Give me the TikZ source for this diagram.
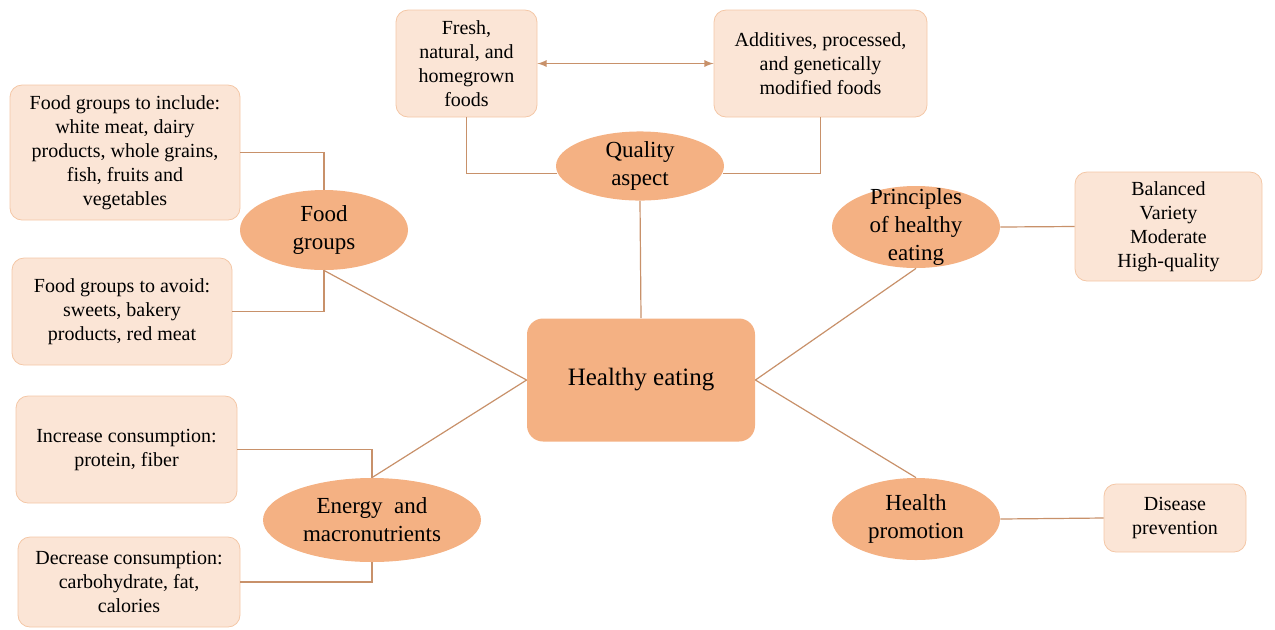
\documentclass[tikz,border=0pt]{standalone}
\usepackage{fontspec}
\setmainfont{Liberation Serif}
\usetikzlibrary{shapes.geometric}
\definecolor{boxfill}{HTML}{FBE5D6}
\definecolor{boxline}{HTML}{F4C7A6}
\definecolor{topicfill}{HTML}{F4B183}
\definecolor{linkcol}{HTML}{C8916A}

\begin{document}
\begin{tikzpicture}[x=0.5pt,y=-0.5pt,
    infobox/.style={draw=boxline,fill=boxfill,rounded corners=6pt,align=center,
      inner sep=2pt,font=\fontsize{10}{12}\selectfont},
    topic/.style={ellipse,fill=topicfill,inner sep=0pt,align=center,
      font=\fontsize{11.5}{14}\selectfont},
    link/.style={draw=linkcol,line width=0.6pt}]
      \useasboundingbox (0,0) rectangle (1275,629) ;
      % centre
      \node[fill=topicfill,rounded corners=8pt,minimum width=114pt,minimum height=61.5pt,
        font=\fontsize{12.5}{15}\selectfont] (healthy) at (641,380) {Healthy eating} ;
      % topics
      \node[topic,minimum width=84pt,minimum height=34pt] (quality) at (640,166) {Quality\\aspect} ;
      \node[topic,minimum width=84pt,minimum height=40pt] (food) at (324,230) {Food\\groups} ;
      \node[topic,minimum width=109pt,minimum height=42pt] (energy) at (372,520) {Energy~ and\\macronutrients} ;
      \node[topic,inner ysep=-5pt,minimum width=84pt,minimum height=41pt] (principles) at (916,227) {Principles\\of healthy\\eating} ;
      \node[topic,minimum width=84pt,minimum height=41pt] (promotion) at (916,519) {Health\\promotion} ;
      % boxes
      \node[infobox,minimum width=70.5pt,minimum height=53.5pt] (fresh) at (466.5,63.5) {Fresh,\\natural, and\\homegrown\\foods} ;
      \node[infobox,minimum width=106.5pt,minimum height=53.5pt] (additives) at (820.5,63.5) {Additives, processed,\\and genetically\\modified foods} ;
      \node[infobox,minimum width=115pt,minimum height=67.5pt] (include) at (125,152.5) {Food groups to include:\\white meat, dairy\\products, whole grains,\\fish, fruits and\\vegetables} ;
      \node[infobox,minimum width=110pt,minimum height=53.5pt] (avoid) at (122,311.5) {Food groups to avoid:\\sweets, bakery\\products, red meat} ;
      \node[infobox,minimum width=110.5pt,minimum height=53.5pt] (increase) at (126.5,449.5) {Increase consumption:\\protein, fiber} ;
      \node[infobox,minimum width=111pt,minimum height=45pt] (decrease) at (129,582) {Decrease consumption:\\carbohydrate, fat,\\calories} ;
      \node[infobox,minimum width=93.5pt,minimum height=54.5pt] (balanced) at (1168.5,226.5) {Balanced\\Variety\\Moderate\\High-quality} ;
      \node[infobox,minimum width=71pt,minimum height=34pt] (disease) at (1175,518) {Disease\\prevention} ;
      % links
      \draw[link,<->,>=latex] (fresh.east) -- (additives.west) ;
      \draw[link] (fresh.south) |- (quality.185) ;
      \draw[link] (additives.south) |- (quality.355) ;
      \draw[link] (quality.south) -- (healthy.north) ;
      \draw[link] (include.east) -| (food.north) ;
      \draw[link] (avoid.east) -| (food.south) ;
      \draw[link] (food.south) -- (healthy.west) ;
      \draw[link] (increase.east) -| (energy.north) ;
      \draw[link] (decrease.east) -| (energy.south) ;
      \draw[link] (energy.north) -- (healthy.west) ;
      \draw[link] (principles.south) -- (healthy.east) ;
      \draw[link] (principles.east) -- (balanced.west) ;
      \draw[link] (healthy.east) -- (promotion.north) ;
      \draw[link] (promotion.east) -- (disease.west) ;
\end{tikzpicture}
\end{document}
